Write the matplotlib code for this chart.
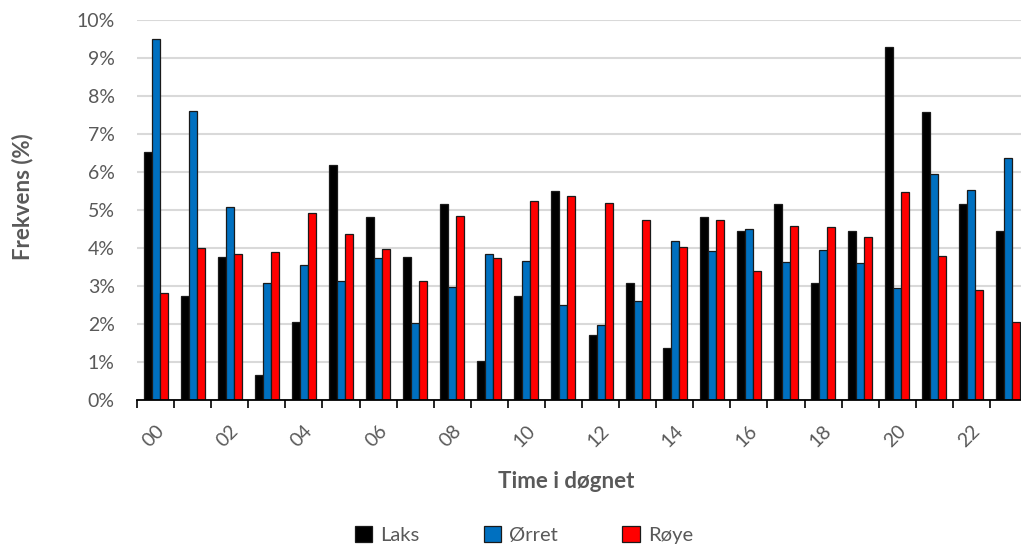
import numpy as np
import matplotlib.pyplot as plt
from matplotlib.patches import Patch

plt.rcParams['font.family'] = ['Lato', 'DejaVu Sans']

hours = ['%02d' % h for h in range(24)]

# frequency per hour of day (%)
laks = [6.53, 2.74, 3.76, 0.67, 2.05, 6.19, 4.81, 3.76, 5.15, 1.02, 2.74, 5.50,
        1.72, 3.07, 1.36, 4.81, 4.46, 5.15, 3.07, 4.46, 9.29, 7.58, 5.15, 4.46]
orret = [9.50, 7.61, 5.07, 3.09, 3.56, 3.13, 3.75, 2.03, 2.98, 3.84, 3.67, 2.50,
         1.98, 2.60, 4.18, 3.91, 4.50, 3.62, 3.96, 3.61, 2.96, 5.94, 5.53, 6.36]
roye = [2.82, 4.00, 3.83, 3.89, 4.93, 4.38, 3.98, 3.12, 4.84, 3.73, 5.25, 5.38,
        5.18, 4.74, 4.03, 4.74, 3.39, 4.59, 4.54, 4.30, 5.48, 3.80, 2.89, 2.04]

names = ['Laks', 'Ørret', 'Røye']
colors = ['#000000', '#0070C0', '#FF0000']
gray = '#595959'

W, H = 1021, 548
fig = plt.figure(figsize=(W/100, H/100), dpi=100)
ax = fig.add_axes([137/W, 1 - 400/H, 890/W, 380/H])

x = np.arange(24)
bw = 0.216
for k, (vals, c) in enumerate(zip([laks, orret, roye], colors)):
    ax.bar(x + (k - 1)*bw, vals, width=bw, color=c, edgecolor='#1a1a1a',
           linewidth=0.9, zorder=3)

ax.set_xlim(-0.5, 23.5)
ax.set_ylim(0, 10)
ax.set_yticks(np.arange(0, 11))
ax.set_yticklabels(['%d%%' % v for v in range(11)], color=gray, fontsize=14)
ax.tick_params(axis='y', length=0, pad=16)
ax.grid(axis='y', color='#d9d9d9', linewidth=1.5, zorder=0)

ax.set_xticks(x[::2])
ax.set_xticklabels(hours[::2], rotation=45, ha='right', va='top',
                   rotation_mode='anchor', color=gray, fontsize=14)
ax.tick_params(axis='x', which='major', length=0, pad=16)
ax.set_xticks(np.arange(-0.5, 24, 1), minor=True)
ax.tick_params(axis='x', which='minor', length=6, width=1.2, color='black')

for s in ['top', 'right', 'left']:
    ax.spines[s].set_visible(False)
ax.spines['bottom'].set_color('black')
ax.spines['bottom'].set_linewidth(1.3)
ax.spines['bottom'].set_zorder(4)

fig.text(23/W, 1 - 197/H, 'Frekvens (%)', rotation=90, ha='center', va='center',
         fontsize=16, fontweight='bold', color=gray)
fig.text(566/W, 1 - 481/H, 'Time i døgnet', ha='center', va='center',
         fontsize=16, fontweight='bold', color=gray)

handles = [Patch(facecolor=c, edgecolor='#1a1a1a', linewidth=0.9) for c in colors]
leg = fig.legend(handles, names, loc='center', bbox_to_anchor=(524/W, 1 - 535/H),
                 ncol=3, frameon=False, fontsize=14.5, handlelength=0.85,
                 handleheight=0.85, handletextpad=0.4, columnspacing=3.2)
for t in leg.get_texts():
    t.set_color(gray)

fig.savefig('out.png', dpi=100)
